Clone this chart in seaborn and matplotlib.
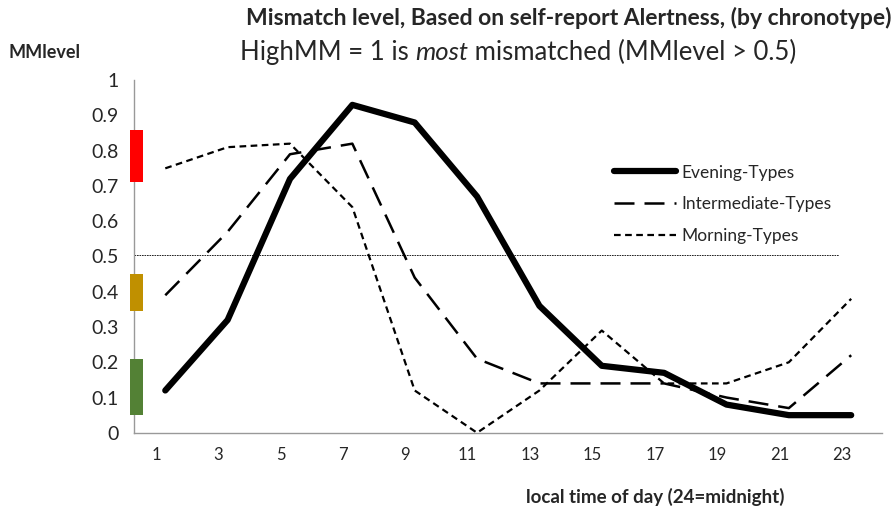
import numpy as np
import pandas as pd
import matplotlib
matplotlib.use("Agg")
import matplotlib.pyplot as plt
import seaborn as sns

# ---------------------------------------------------------------------
# Data
# ---------------------------------------------------------------------
hours = [1, 3, 5, 7, 9, 11, 13, 15, 17, 19, 21, 23]
evening = [0.12, 0.32, 0.72, 0.93, 0.88, 0.67, 0.36, 0.19, 0.17, 0.08, 0.05, 0.05]
intermediate = [0.39, 0.57, 0.79, 0.82, 0.44, 0.21, 0.14, 0.14, 0.14, 0.10, 0.07, 0.22]
morning = [0.75, 0.81, 0.82, 0.64, 0.12, 0.00, 0.12, 0.29, 0.14, 0.14, 0.20, 0.38]
series_names = ["Evening-Types", "Intermediate-Types", "Morning-Types"]
y_ticks = [0, 0.1, 0.2, 0.3, 0.4, 0.5, 0.6, 0.7, 0.8, 0.9, 1]
threshold = 0.5
# coloured bands on the y axis: (low, high, colour)
bands = [(0.71, 0.86, "#ff0000"), (0.345, 0.45, "#c09000"), (0.05, 0.21, "#538135")]

sns.set_style("white")
plt.rcParams["font.family"] = ["Lato", "DejaVu Sans"]

df = pd.DataFrame({
    "pos": list(range(len(hours))) * 3,
    "value": evening + intermediate + morning,
    "type": np.repeat(series_names, len(hours)),
})

fig = plt.figure(figsize=(8.94, 5.14), dpi=100)
ax = fig.add_axes([0.150, 0.158, 0.837, 0.686])

styles = {
    "Evening-Types": dict(lw=4.5, ls="-"),
    "Intermediate-Types": dict(lw=1.8, ls=(0, (8, 4))),
    "Morning-Types": dict(lw=1.6, ls=(0, (3, 2))),
}
for name in series_names:
    sub = df[df["type"] == name]
    sns.lineplot(data=sub, x="pos", y="value", ax=ax, color="black",
                 label=name, linewidth=styles[name]["lw"],
                 linestyle=styles[name]["ls"], solid_capstyle="round",
                 dash_capstyle="butt")

# mismatch threshold
ax.plot([-0.5, 10.8], [threshold + 0.003] * 2, color="black", lw=0.6,
        ls=(0, (2, 1)))

# axis formatting (Excel look)
ax.set_xlim(-0.5, 11.5)
ax.set_ylim(0, 1)
ax.set_xticks(np.arange(len(hours)) - 0.15)
ax.set_xticklabels([str(h) for h in hours], fontsize=12)
ax.set_xticks(np.arange(-0.5, 12, 1), minor=True)
ax.tick_params(axis="x", which="major", length=0, pad=10)
ax.tick_params(axis="x", which="minor", length=6, color="#999999", direction="out")
ax.set_yticks(y_ticks)
ax.set_yticklabels([f"{t:g}" for t in y_ticks], fontsize=14)
ax.tick_params(axis="y", length=5, color="#999999", direction="out", pad=6)
for side in ["top", "right"]:
    ax.spines[side].set_visible(False)
for side in ["left", "bottom"]:
    ax.spines[side].set_color("#999999")
    ax.spines[side].set_linewidth(1)
ax.set_xlabel("")
ax.set_ylabel("")

# coloured bands drawn across the y-axis spine
for lo, hi, col in bands:
    ax.fill_between([-0.56, -0.35], lo, hi, color=col, transform=ax.transData,
                    clip_on=False, zorder=5, lw=0)

leg = ax.legend(loc="upper left", bbox_to_anchor=(0.62, 0.805), frameon=False,
                fontsize=12.5, handlelength=3.6, handletextpad=0.3,
                labelspacing=0.9)

fig.text(0.636, 0.965, "Mismatch level, Based on self-report Alertness, (by chronotype)",
         ha="center", va="center", fontsize=16.5, fontweight="bold")
sub_y = 0.898
t1 = fig.text(0.268, sub_y, "HighMM = 1 is ", ha="left", va="center", fontsize=18.5)
fig.canvas.draw()
renderer = fig.canvas.get_renderer()
bb = t1.get_window_extent(renderer=renderer).transformed(fig.transFigure.inverted())
t2 = fig.text(bb.x1, sub_y, "most", ha="left", va="center", fontsize=18.5, style="italic")
bb2 = t2.get_window_extent(renderer=renderer).transformed(fig.transFigure.inverted())
fig.text(bb2.x1, sub_y, " mismatched (MMlevel > 0.5)", ha="left", va="center", fontsize=18.5)
fig.text(0.01, sub_y, "MMlevel", ha="left", va="center", fontsize=13, fontweight="bold")
fig.text(0.733, 0.033, "local time of day (24=midnight)", ha="center", va="center",
         fontsize=13.5, fontweight="bold")

fig.savefig("out.png", dpi=100)
